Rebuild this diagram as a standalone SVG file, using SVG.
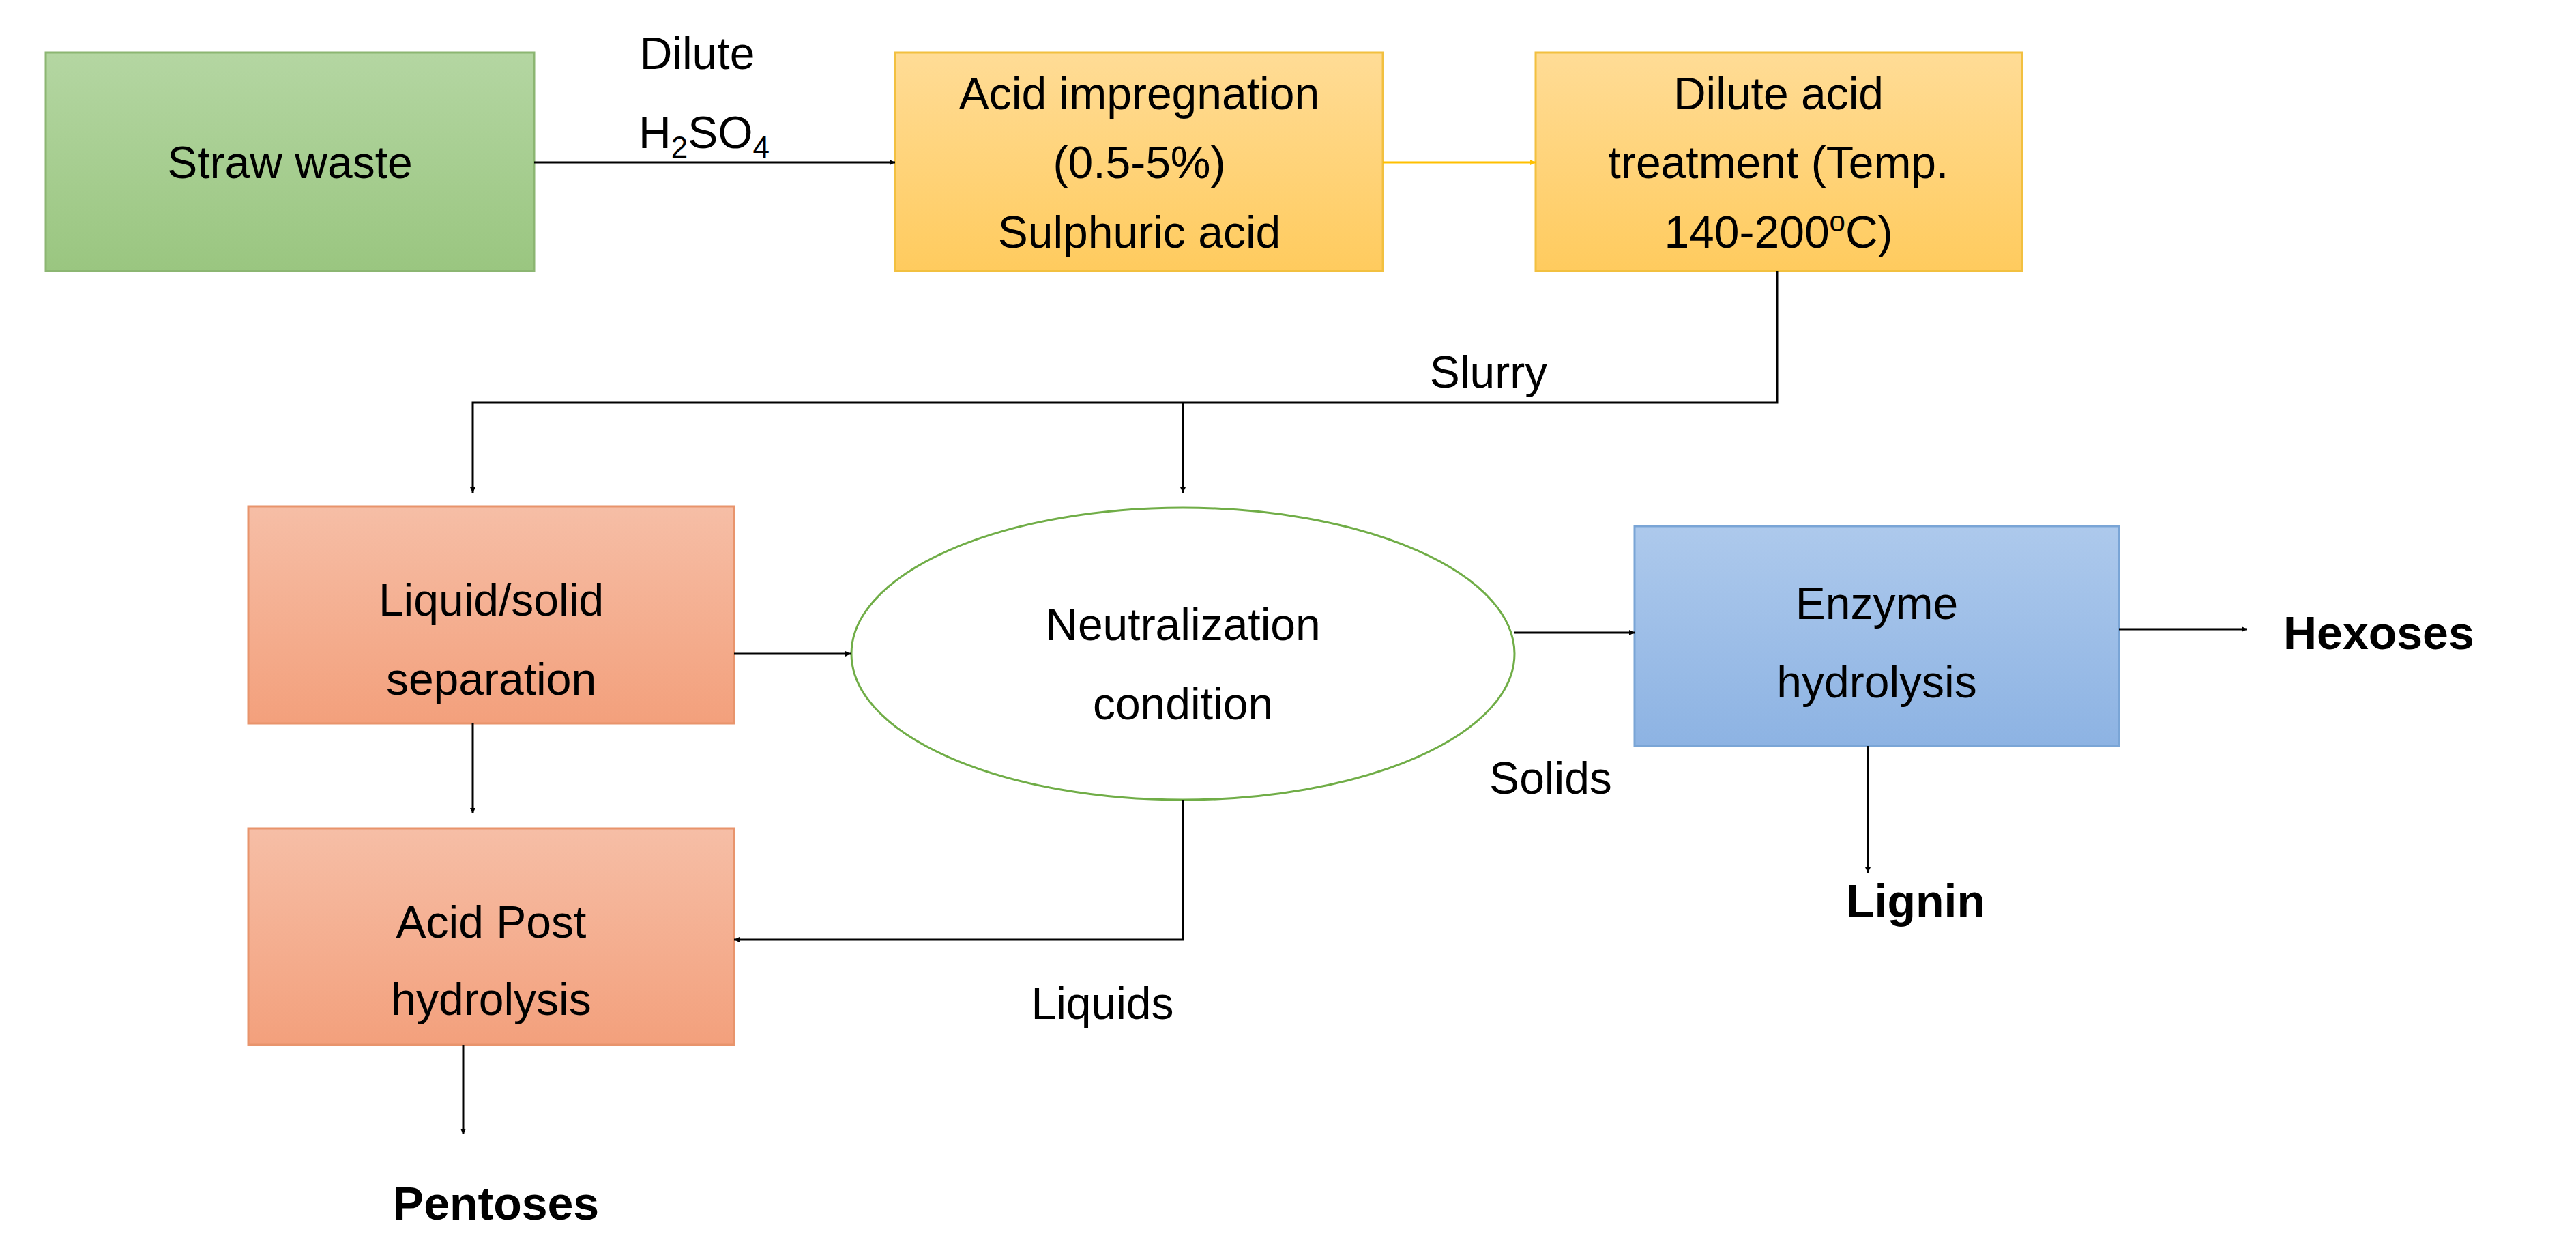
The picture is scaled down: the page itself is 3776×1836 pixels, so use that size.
<svg xmlns="http://www.w3.org/2000/svg" width="3776" height="1836" viewBox="0 0 3776 1836">
<style>
text{font-family:"Liberation Sans",Arial,sans-serif;font-size:66px;fill:#000;text-anchor:middle}
.b{font-weight:bold;font-size:68px}
.c{fill:none;stroke:#000;stroke-width:3}
</style>
<defs>
<linearGradient id="g" x1="0" y1="0" x2="0" y2="1"><stop offset="0" stop-color="#b4d6a2"/><stop offset="1" stop-color="#9ac680"/></linearGradient>
<linearGradient id="y" x1="0" y1="0" x2="0" y2="1"><stop offset="0" stop-color="#ffdc96"/><stop offset="1" stop-color="#ffcb5e"/></linearGradient>
<linearGradient id="s" x1="0" y1="0" x2="0" y2="1"><stop offset="0" stop-color="#f6bea6"/><stop offset="1" stop-color="#f3a07c"/></linearGradient>
<linearGradient id="bl" x1="0" y1="0" x2="0" y2="1"><stop offset="0" stop-color="#adc9ec"/><stop offset="1" stop-color="#8db3e3"/></linearGradient>
<marker id="a" viewBox="0 0 10 10" refX="10" refY="5" markerWidth="8" markerHeight="8" orient="auto" markerUnits="userSpaceOnUse"><path d="M0,0L10,5L0,10z" fill="#000"/></marker>
<marker id="ay" viewBox="0 0 10 10" refX="10" refY="5" markerWidth="8" markerHeight="8" orient="auto" markerUnits="userSpaceOnUse"><path d="M0,0L10,5L0,10z" fill="#ffc000"/></marker>
</defs>
<g id="straw"><rect x="67" y="77" width="716" height="320" fill="url(#g)" stroke="#8cb672" stroke-width="3"/><text x="425" y="261">Straw waste</text></g>
<g id="impreg"><rect x="1312" y="77" width="715" height="320" fill="url(#y)" stroke="#f2c040" stroke-width="3"/><text x="1670" y="160">Acid impregnation</text><text x="1670" y="261">(0.5-5%)</text><text x="1670" y="363">Sulphuric acid</text></g>
<g id="treat"><rect x="2251" y="77" width="713" height="320" fill="url(#y)" stroke="#f2c040" stroke-width="3"/><text x="2607" y="160">Dilute acid</text><text x="2607" y="261">treatment (Temp.</text><text x="2607" y="363">140-200<tspan font-size="42" dy="-24">o</tspan><tspan dy="24">C)</tspan></text></g>
<g id="sep"><rect x="364" y="742" width="712" height="318" fill="url(#s)" stroke="#e8946c" stroke-width="3"/><text x="720" y="902">Liquid/solid</text><text x="720" y="1018">separation</text></g>
<g id="post"><rect x="364" y="1214" width="712" height="317" fill="url(#s)" stroke="#e8946c" stroke-width="3"/><text x="720" y="1374">Acid Post</text><text x="720" y="1487">hydrolysis</text></g>
<g id="neut"><ellipse cx="1734" cy="958" rx="486" ry="214" fill="#fff" stroke="#70ad47" stroke-width="3"/><text x="1734" y="938">Neutralization</text><text x="1734" y="1054">condition</text></g>
<g id="enz"><rect x="2396" y="771" width="710" height="322" fill="url(#bl)" stroke="#7aa5d6" stroke-width="3"/><text x="2751" y="907">Enzyme</text><text x="2751" y="1022">hydrolysis</text></g>
<g id="labels">
<text x="1022" y="101">Dilute</text>
<text x="1032" y="217">H<tspan font-size="44" dy="14">2</tspan><tspan dy="-14">SO</tspan><tspan font-size="44" dy="14">4</tspan></text>
<text x="2182" y="568">Slurry</text>
<text x="2273" y="1163">Solids</text>
<text x="1616" y="1493">Liquids</text>
<text class="b" x="3347" y="951" style="text-anchor:start">Hexoses</text>
<text class="b" x="2808" y="1344">Lignin</text>
<text class="b" x="727" y="1787">Pentoses</text>
</g>
<g id="connectors">
<path class="c" d="M783,238H1312" marker-end="url(#a)"/>
<path class="c" d="M2027,238H2251" stroke="#ffc000" style="stroke:#ffc000" marker-end="url(#ay)"/>
<path class="c" d="M2605,397V590H693V722" marker-end="url(#a)"/>
<path class="c" d="M1734,590V722" marker-end="url(#a)"/>
<path class="c" d="M1076,958H1247" marker-end="url(#a)"/>
<path class="c" d="M2220,927H2396" marker-end="url(#a)"/>
<path class="c" d="M3106,922H3294" marker-end="url(#a)"/>
<path class="c" d="M2738,1093V1279" marker-end="url(#a)"/>
<path class="c" d="M693,1060V1192" marker-end="url(#a)"/>
<path class="c" d="M1734,1172V1377H1076" marker-end="url(#a)"/>
<path class="c" d="M679,1531V1662" marker-end="url(#a)"/>
</g>
</svg>
